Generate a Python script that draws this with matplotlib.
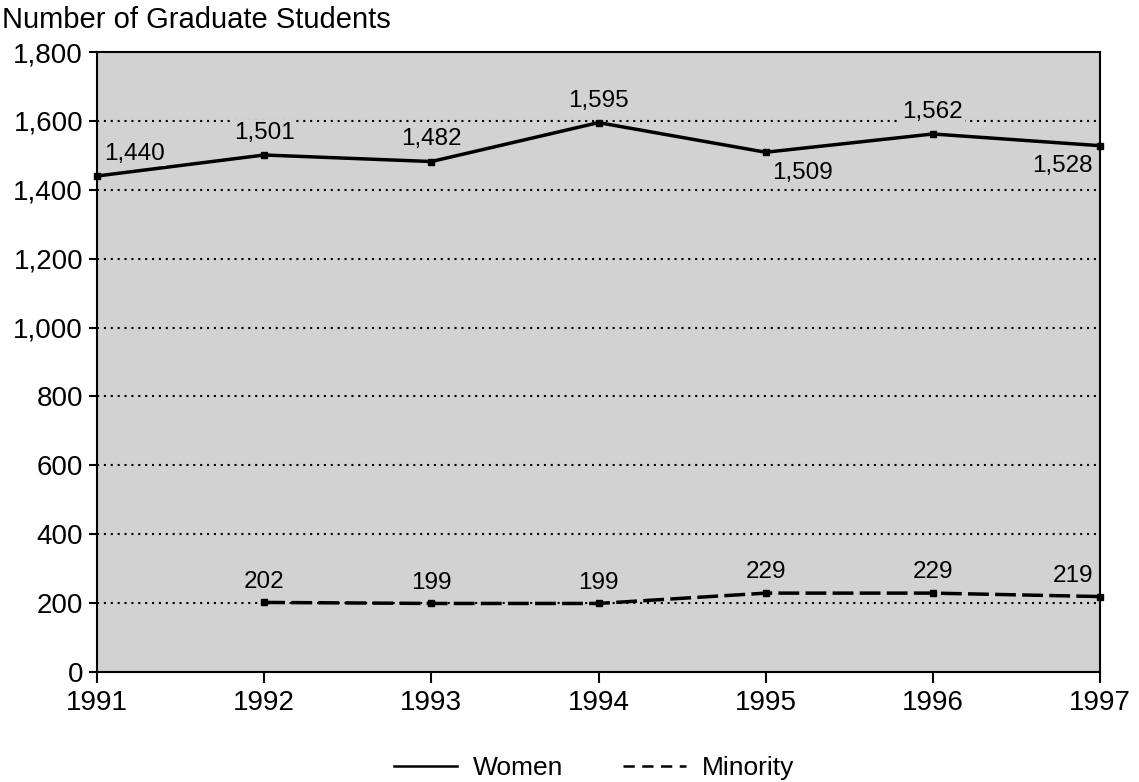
import matplotlib
matplotlib.use("Agg")
import matplotlib.pyplot as plt
from matplotlib.lines import Line2D

plt.rcParams['font.family'] = ['Liberation Sans', 'DejaVu Sans']

years = [1991, 1992, 1993, 1994, 1995, 1996, 1997]
women = [1440, 1501, 1482, 1595, 1509, 1562, 1528]
minority_years = [1992, 1993, 1994, 1995, 1996, 1997]
minority = [202, 199, 199, 229, 229, 219]
yticks = [0, 200, 400, 600, 800, 1000, 1200, 1400, 1600, 1800]

bg = '#d2d2d2'
fig = plt.figure(figsize=(11.39, 7.82), dpi=100)
ax = fig.add_axes([97/1139, 1-672/782, (1100-97)/1139, (672-52)/782])
ax.set_facecolor(bg)

ax.plot(years, women, color='black', lw=2.5, marker='s', ms=5, zorder=3, clip_on=False)
ax.plot(minority_years, minority, color='black', lw=2.5, ls=(0, (6, 1.8)), marker='s', ms=5,
        zorder=3, clip_on=False)

ax.set_xlim(1991, 1997)
ax.set_ylim(0, 1800)
ax.set_xticks(years)
ax.set_yticks(yticks)
ax.set_yticklabels([f"{v:,}" for v in yticks])
ax.tick_params(axis='both', labelsize=20, width=1.5, direction='out', color='black')
ax.tick_params(axis='x', length=8, pad=5)
ax.tick_params(axis='y', length=6, pad=4)
for s in ax.spines.values():
    s.set_linewidth(1.5)
for v in yticks[1:-1]:
    ax.axhline(v, color='black', lw=1.5, ls=(0, (1, 2.3)), zorder=1)

fs = 17.5
box = dict(facecolor=bg, edgecolor='none', pad=1)
women_offsets = [(5, 8, 'left', 'bottom'), (0, 8, 'center', 'bottom'), (0, 8, 'center', 'bottom'),
                 (0, 8, 'center', 'bottom'), (5, -7, 'left', 'top'), (0, 8, 'center', 'bottom'),
                 (-5, -7, 'right', 'top')]
for x, y, (dx, dy, ha, va) in zip(years, women, women_offsets):
    ax.annotate(f"{y:,}", (x, y), xytext=(dx, dy), textcoords='offset points', ha=ha, va=va,
                fontsize=fs, bbox=box, zorder=4)
min_offsets = [(0, 7, 'center', 'bottom')] * 5 + [(-5, 7, 'right', 'bottom')]
for x, y, (dx, dy, ha, va) in zip(minority_years, minority, min_offsets):
    ax.annotate(f"{y:,}", (x, y), xytext=(dx, dy), textcoords='offset points', ha=ha, va=va,
                fontsize=fs, bbox=box, zorder=4)

fig.text(2/1139, 1-20/782, "Number of Graduate Students", fontsize=21, va='center', ha='left')

handles = [Line2D([], [], color='black', lw=1.8),
           Line2D([], [], color='black', lw=1.8, ls=(0, (4.5, 3)))]
fig.legend(handles, ['Women', 'Minority'], loc='center', bbox_to_anchor=(594/1139, 1-768/782),
           ncol=2, frameon=False, fontsize=19, handlelength=2.4, columnspacing=2.27,
           handletextpad=0.6)

fig.savefig('out.png', dpi=100)
